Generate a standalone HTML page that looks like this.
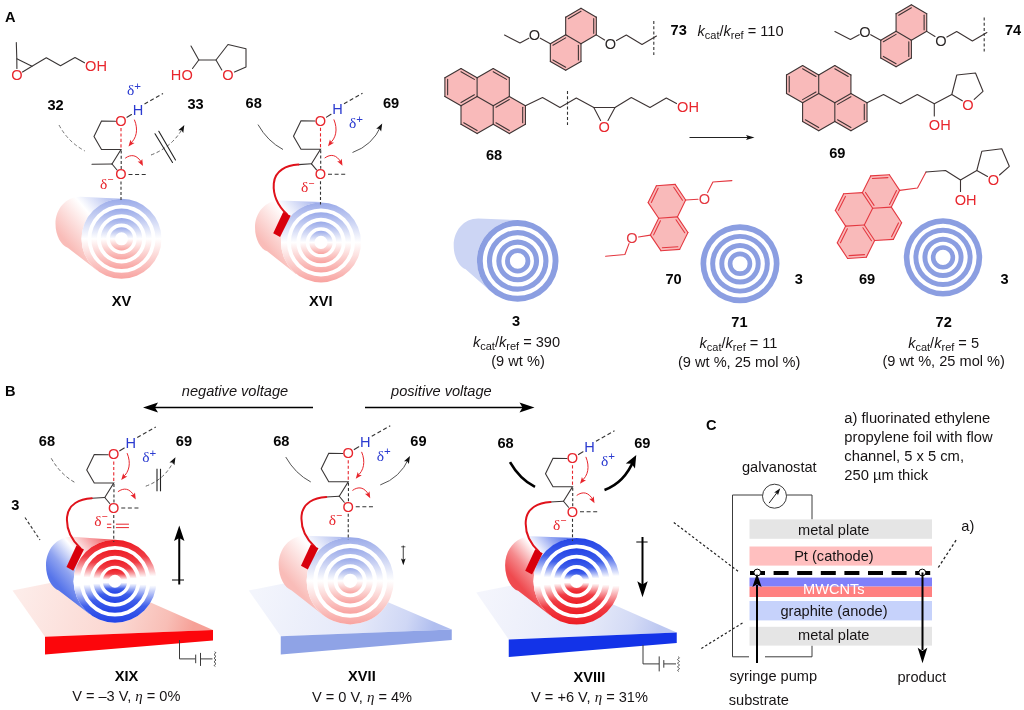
<!DOCTYPE html>
<html><head><meta charset="utf-8"><title>Figure</title>
<style>html,body{margin:0;padding:0;background:#fff;}body{width:1024px;height:710px;overflow:hidden;font-family:"Liberation Sans",sans-serif;}svg{display:block;will-change:transform;}</style></head>
<body>
<svg width="1024" height="710" viewBox="0 0 1024 710" font-family="Liberation Sans, sans-serif">
<defs>
<linearGradient id="gLight" gradientUnits="objectBoundingBox" x1="0" y1="0" x2="0" y2="1"><stop offset="0" stop-color="#9aaae9"/><stop offset="0.5" stop-color="#ffffff"/><stop offset="1" stop-color="#f8a3a0"/></linearGradient>
<linearGradient id="gStrongRB" gradientUnits="objectBoundingBox" x1="0" y1="0" x2="0" y2="1"><stop offset="0" stop-color="#ed1c24"/><stop offset="0.2" stop-color="#f03c44"/><stop offset="0.44" stop-color="#ffffff"/><stop offset="0.55" stop-color="#ffffff"/><stop offset="0.8" stop-color="#3f5fea"/><stop offset="1" stop-color="#2343e6"/></linearGradient>
<linearGradient id="gStrongBR" gradientUnits="objectBoundingBox" x1="0" y1="0" x2="0" y2="1"><stop offset="0" stop-color="#2343e6"/><stop offset="0.2" stop-color="#3f5fea"/><stop offset="0.44" stop-color="#ffffff"/><stop offset="0.55" stop-color="#ffffff"/><stop offset="0.8" stop-color="#f03c44"/><stop offset="1" stop-color="#ed1c24"/></linearGradient>
<linearGradient id="gbXV" gradientUnits="userSpaceOnUse" x1="113.5" y1="192.8" x2="61.5" y2="236.8"><stop offset="0" stop-color="#a6b4ed"/><stop offset="0.47" stop-color="#ffffff"/><stop offset="1" stop-color="#f9bcb8"/></linearGradient>
<linearGradient id="gbXVI" gradientUnits="userSpaceOnUse" x1="313" y1="196.4" x2="261" y2="240.4"><stop offset="0" stop-color="#a6b4ed"/><stop offset="0.47" stop-color="#ffffff"/><stop offset="1" stop-color="#f9bcb8"/></linearGradient>
<linearGradient id="gpXIX" gradientUnits="userSpaceOnUse" x1="20" y1="592" x2="190" y2="640"><stop offset="0" stop-color="#fdece9"/><stop offset="0.6" stop-color="#fbd6d0"/><stop offset="0.85" stop-color="#f8beb6"/><stop offset="1" stop-color="#f6a097"/></linearGradient>
<linearGradient id="gbXIX" gradientUnits="userSpaceOnUse" x1="107" y1="533.25" x2="53" y2="579.25"><stop offset="0" stop-color="#f0555a"/><stop offset="0.25" stop-color="#f7a5a8"/><stop offset="0.5" stop-color="#ffffff"/><stop offset="0.78" stop-color="#8fa3f0"/><stop offset="1" stop-color="#5674ea"/></linearGradient>
<linearGradient id="gpXVII" gradientUnits="userSpaceOnUse" x1="256" y1="592" x2="430" y2="640"><stop offset="0" stop-color="#f3f5fc"/><stop offset="0.6" stop-color="#e4e8f9"/><stop offset="0.85" stop-color="#cfd7f5"/><stop offset="1" stop-color="#b0beef"/></linearGradient>
<linearGradient id="gbXVII" gradientUnits="userSpaceOnUse" x1="342.2" y1="532.8" x2="288.2" y2="578.8"><stop offset="0" stop-color="#a6b4ed"/><stop offset="0.47" stop-color="#ffffff"/><stop offset="1" stop-color="#f9bcb8"/></linearGradient>
<linearGradient id="gpXVIII" gradientUnits="userSpaceOnUse" x1="484" y1="594" x2="655" y2="642"><stop offset="0" stop-color="#f4f5fc"/><stop offset="0.6" stop-color="#e6eaf9"/><stop offset="0.85" stop-color="#d3daf5"/><stop offset="1" stop-color="#bdc8f1"/></linearGradient>
<linearGradient id="gbXVIII" gradientUnits="userSpaceOnUse" x1="568.6" y1="533.25" x2="514.6" y2="579.25"><stop offset="0" stop-color="#4a68ea"/><stop offset="0.25" stop-color="#9aabf2"/><stop offset="0.5" stop-color="#ffffff"/><stop offset="0.78" stop-color="#f58a8d"/><stop offset="1" stop-color="#ef4a4f"/></linearGradient>
</defs>
<rect width="1024" height="710" fill="#fff"/>
<g>
<text x="5" y="22" font-family="Liberation Sans" font-size="14.6" fill="#050505" font-weight="bold" text-anchor="start" font-style="normal" >A</text>
<path d="M16.3,42.5 L16.8,58.8 L32,66.3 L46.3,57.7 L60.5,65.8 L75,57.5 L84.5,62.8" fill="none" stroke="#3a3636" stroke-width="1.1" stroke-linejoin="round" stroke-linecap="round"/>
<line x1="16.8" y1="58.8" x2="16.9" y2="68.5" stroke="#3a3636" stroke-width="1.1" stroke-linecap="round" />
<line x1="32" y1="66.3" x2="22.5" y2="72" stroke="#3a3636" stroke-width="1.1" stroke-linecap="round" />
<text x="17" y="80.23" font-family="Liberation Sans" font-size="14.6" fill="#e8262d" font-weight="normal" text-anchor="middle" font-style="normal" >O</text>
<text x="96" y="71.23" font-family="Liberation Sans" font-size="14.6" fill="#e8262d" font-weight="normal" text-anchor="middle" font-style="normal" >OH</text>
<text x="55.6" y="109.8" font-family="Liberation Sans" font-size="14.6" fill="#050505" font-weight="bold" text-anchor="middle" font-style="normal" >32</text>
<path d="M191,46 L198.8,60 L216,60" fill="none" stroke="#3a3636" stroke-width="1.1" stroke-linejoin="round" stroke-linecap="round"/>
<line x1="198.8" y1="60" x2="192.5" y2="68.5" stroke="#3a3636" stroke-width="1.1" stroke-linecap="round" />
<path d="M221.8,70 L216,60 L228,44.5 L246,48.8 L246,67 L234.5,72" fill="none" stroke="#3a3636" stroke-width="1.1" stroke-linejoin="round" stroke-linecap="round"/>
<text x="181.8" y="80.23" font-family="Liberation Sans" font-size="14.6" fill="#e8262d" font-weight="normal" text-anchor="middle" font-style="normal" >HO</text>
<text x="228" y="79.73" font-family="Liberation Sans" font-size="14.6" fill="#e8262d" font-weight="normal" text-anchor="middle" font-style="normal" >O</text>
<text x="195.5" y="108.9" font-family="Liberation Sans" font-size="14.6" fill="#050505" font-weight="bold" text-anchor="middle" font-style="normal" >33</text>
<path d="M121.5,198.8 L80.5,196.8 C65.8,196.8 55.5,208.89 55.5,223.8 C55.5,235.95 61.25,245.4 67.7,247.64 L96.87,270.32 L121.5,238.8 Z" fill="url(#gbXV)"/>
<circle cx="121.5" cy="238.8" r="40" fill="#fff"/>
<path d="M81.5,238.8 A40,40 0 1 0 161.5,238.8 A40,40 0 1 0 81.5,238.8 Z M87.5,238.8 A34,34 0 1 1 155.5,238.8 A34,34 0 1 1 87.5,238.8 Z" fill="url(#gLight)" fill-rule="evenodd"/>
<path d="M91.3,238.8 A30.2,30.2 0 1 0 151.7,238.8 A30.2,30.2 0 1 0 91.3,238.8 Z M96.9,238.8 A24.6,24.6 0 1 1 146.1,238.8 A24.6,24.6 0 1 1 96.9,238.8 Z" fill="url(#gLight)" fill-rule="evenodd"/>
<path d="M100.7,238.8 A20.8,20.8 0 1 0 142.3,238.8 A20.8,20.8 0 1 0 100.7,238.8 Z M106.3,238.8 A15.2,15.2 0 1 1 136.7,238.8 A15.2,15.2 0 1 1 106.3,238.8 Z" fill="url(#gLight)" fill-rule="evenodd"/>
<path d="M109.85,238.8 A11.65,11.65 0 1 0 133.15,238.8 A11.65,11.65 0 1 0 109.85,238.8 Z M114.95,238.8 A6.55,6.55 0 1 1 128.05,238.8 A6.55,6.55 0 1 1 114.95,238.8 Z" fill="url(#gLight)" fill-rule="evenodd"/>
<path d="M115.5,121.2 L101.5,121 L94,136.5 L101.5,149.5 L121,149.5 L112,164" fill="none" stroke="#3a3636" stroke-width="1.1" stroke-linejoin="miter" stroke-linecap="round"/>
<line x1="112" y1="164" x2="117" y2="170" stroke="#3a3636" stroke-width="1.1" stroke-linecap="round" />
<line x1="127" y1="117.3" x2="131.5" y2="114.5" stroke="#3a3636" stroke-width="1.1" stroke-linecap="round" />
<line x1="144.5" y1="104" x2="163" y2="93.5" stroke="#333" stroke-width="1.1" stroke-linecap="butt" stroke-dasharray="4 2.6" />
<line x1="121" y1="128" x2="121" y2="149" stroke="#e8262d" stroke-width="1.1" stroke-linecap="butt" stroke-dasharray="3.2 2.2" />
<line x1="121.2" y1="150.5" x2="121.2" y2="169" stroke="#333" stroke-width="1.1" stroke-linecap="butt" stroke-dasharray="3 2.2" />
<line x1="121" y1="181.5" x2="121" y2="200.5" stroke="#333" stroke-width="1.1" stroke-linecap="butt" stroke-dasharray="3 2.2" />
<line x1="128.5" y1="174.5" x2="148" y2="174.5" stroke="#333" stroke-width="1.1" stroke-linecap="butt" stroke-dasharray="4 2.6" />
<line x1="112" y1="164" x2="92" y2="164.3" stroke="#3a3636" stroke-width="1.1" stroke-linecap="round" />
<text x="121" y="125.93" font-family="Liberation Sans" font-size="14.6" fill="#e8262d" font-weight="normal" text-anchor="middle" font-style="normal" >O</text>
<text x="138" y="114.63" font-family="Liberation Sans" font-size="14.6" fill="#2b3bd0" font-weight="normal" text-anchor="middle" font-style="normal" >H</text>
<text x="121" y="179.43" font-family="Liberation Sans" font-size="14.6" fill="#e8262d" font-weight="normal" text-anchor="middle" font-style="normal" >O</text>
<text x="127" y="95" font-family="Liberation Serif" font-size="15.5" fill="#2b3bd0" font-weight="normal" text-anchor="start" font-style="normal" >&#948;</text>
<text x="134.3" y="89.5" font-family="Liberation Sans" font-size="11.5" fill="#2b3bd0" font-weight="normal" text-anchor="start" font-style="normal" >+</text>
<text x="100" y="188.8" font-family="Liberation Serif" font-size="15.5" fill="#e8262d" font-weight="normal" text-anchor="start" font-style="normal" >&#948;</text>
<text x="107.3" y="183.3" font-family="Liberation Sans" font-size="10.5" fill="#e8262d" font-weight="normal" text-anchor="start" font-style="normal" >&#8722;</text>
<path d="M134.5,120 C138.5,129.5 136.5,138.5 130.5,143.5" fill="none" stroke="#e8262d" stroke-width="1" stroke-linecap="round" stroke-linejoin="round" />
<path d="M128.5,146.5 L130.45,139.78 L131.7,142.4 L134.55,142.98 Z" fill="#e8262d"/>
<path d="M125.5,158 C131,154 137,154.5 141.5,162.5" fill="none" stroke="#e8262d" stroke-width="1" stroke-linecap="round" stroke-linejoin="round" />
<path d="M143,166 L137.65,161.48 L140.56,161.41 L142.24,159.04 Z" fill="#e8262d"/>
<path d="M59,125 Q68,142 85,151" fill="none" stroke="#777" stroke-width="1" stroke-linecap="butt" stroke-linejoin="round" stroke-dasharray="3.6 2.4" />
<path d="M151,155 Q172,147 182.5,128.5" fill="none" stroke="#666" stroke-width="1" stroke-linecap="butt" stroke-linejoin="round" stroke-dasharray="3.6 2.4" />
<path d="M184.3,125 L183.25,132.94 L181.48,130.3 L178.31,130.31 Z" fill="#111"/>
<line x1="155" y1="133.8" x2="172.5" y2="162.5" stroke="#222" stroke-width="1.1" stroke-linecap="round" />
<line x1="158.8" y1="131.3" x2="175.5" y2="160" stroke="#222" stroke-width="1.1" stroke-linecap="round" />
<text x="121.5" y="306" font-family="Liberation Sans" font-size="14.6" fill="#050505" font-weight="bold" text-anchor="middle" font-style="normal" >XV</text>
<text x="253.7" y="108" font-family="Liberation Sans" font-size="14.6" fill="#050505" font-weight="bold" text-anchor="middle" font-style="normal" >68</text>
<text x="391" y="108" font-family="Liberation Sans" font-size="14.6" fill="#050505" font-weight="bold" text-anchor="middle" font-style="normal" >69</text>
<path d="M321,202.1 L280,200.4 C265.3,200.4 255,212.49 255,227.4 C255,239.55 260.75,249 267.2,251.24 L296.19,274.16 L321,242.4 Z" fill="url(#gbXVI)"/>
<circle cx="321" cy="242.4" r="40" fill="#fff"/>
<path d="M281,242.4 A40,40 0 1 0 361,242.4 A40,40 0 1 0 281,242.4 Z M287,242.4 A34,34 0 1 1 355,242.4 A34,34 0 1 1 287,242.4 Z" fill="url(#gLight)" fill-rule="evenodd"/>
<path d="M290.8,242.4 A30.2,30.2 0 1 0 351.2,242.4 A30.2,30.2 0 1 0 290.8,242.4 Z M296.4,242.4 A24.6,24.6 0 1 1 345.6,242.4 A24.6,24.6 0 1 1 296.4,242.4 Z" fill="url(#gLight)" fill-rule="evenodd"/>
<path d="M300.2,242.4 A20.8,20.8 0 1 0 341.8,242.4 A20.8,20.8 0 1 0 300.2,242.4 Z M305.8,242.4 A15.2,15.2 0 1 1 336.2,242.4 A15.2,15.2 0 1 1 305.8,242.4 Z" fill="url(#gLight)" fill-rule="evenodd"/>
<path d="M309.35,242.4 A11.65,11.65 0 1 0 332.65,242.4 A11.65,11.65 0 1 0 309.35,242.4 Z M314.45,242.4 A6.55,6.55 0 1 1 327.55,242.4 A6.55,6.55 0 1 1 314.45,242.4 Z" fill="url(#gLight)" fill-rule="evenodd"/>
<path d="M315,121 L301,120.8 L293.5,136.3 L301,149.3 L320.5,149.3 L311.5,163.8" fill="none" stroke="#3a3636" stroke-width="1.1" stroke-linejoin="miter" stroke-linecap="round"/>
<line x1="311.5" y1="163.8" x2="316.5" y2="169.8" stroke="#3a3636" stroke-width="1.1" stroke-linecap="round" />
<line x1="326.5" y1="117.1" x2="331" y2="114.3" stroke="#3a3636" stroke-width="1.1" stroke-linecap="round" />
<line x1="344" y1="103.8" x2="362.5" y2="93.3" stroke="#333" stroke-width="1.1" stroke-linecap="butt" stroke-dasharray="4 2.6" />
<line x1="320.5" y1="127.8" x2="320.5" y2="148.8" stroke="#e8262d" stroke-width="1.1" stroke-linecap="butt" stroke-dasharray="3.2 2.2" />
<line x1="320.7" y1="150.3" x2="320.7" y2="168.8" stroke="#333" stroke-width="1.1" stroke-linecap="butt" stroke-dasharray="3 2.2" />
<line x1="320.5" y1="181.3" x2="320.5" y2="204.5" stroke="#333" stroke-width="1.1" stroke-linecap="butt" stroke-dasharray="3 2.2" />
<line x1="328" y1="174.3" x2="347.5" y2="174.3" stroke="#333" stroke-width="1.1" stroke-linecap="butt" stroke-dasharray="4 2.6" />
<line x1="311.5" y1="163.8" x2="298.5" y2="164.6" stroke="#3a3636" stroke-width="1.1" stroke-linecap="round" />
<path d="M298.5,164.6 C286.5,165.3 275,170.3 273.8,183.3 C272.7,197.3 278.5,206.3 287,214.3" fill="none" stroke="#e0121b" stroke-width="2" stroke-linecap="round" stroke-linejoin="round" />
<path d="M283.2,211.9 L290.7,215.7 L280.1,237 L273.2,233.2 Z" fill="#d8000c" stroke="none" stroke-width="0" stroke-linejoin="round" stroke-linecap="round"/>
<text x="320.5" y="125.73" font-family="Liberation Sans" font-size="14.6" fill="#e8262d" font-weight="normal" text-anchor="middle" font-style="normal" >O</text>
<text x="337.5" y="114.43" font-family="Liberation Sans" font-size="14.6" fill="#2b3bd0" font-weight="normal" text-anchor="middle" font-style="normal" >H</text>
<text x="320.5" y="179.23" font-family="Liberation Sans" font-size="14.6" fill="#e8262d" font-weight="normal" text-anchor="middle" font-style="normal" >O</text>
<text x="349" y="128.3" font-family="Liberation Serif" font-size="15.5" fill="#2b3bd0" font-weight="normal" text-anchor="start" font-style="normal" >&#948;</text>
<text x="356.3" y="122.8" font-family="Liberation Sans" font-size="11.5" fill="#2b3bd0" font-weight="normal" text-anchor="start" font-style="normal" >+</text>
<text x="301" y="192.1" font-family="Liberation Serif" font-size="15.5" fill="#e8262d" font-weight="normal" text-anchor="start" font-style="normal" >&#948;</text>
<text x="308.3" y="186.6" font-family="Liberation Sans" font-size="10.5" fill="#e8262d" font-weight="normal" text-anchor="start" font-style="normal" >&#8722;</text>
<path d="M334,119.8 C338,129.3 336,138.3 330,143.3" fill="none" stroke="#e8262d" stroke-width="1" stroke-linecap="round" stroke-linejoin="round" />
<path d="M328,146.3 L329.95,139.58 L331.2,142.2 L334.05,142.78 Z" fill="#e8262d"/>
<path d="M325,157.8 C330.5,153.8 336.5,154.3 341,162.3" fill="none" stroke="#e8262d" stroke-width="1" stroke-linecap="round" stroke-linejoin="round" />
<path d="M342.5,165.8 L337.15,161.28 L340.06,161.21 L341.74,158.84 Z" fill="#e8262d"/>
<path d="M258,124.6 Q267.5,141.3 283,149.5" fill="none" stroke="#555" stroke-width="1" stroke-linecap="butt" stroke-linejoin="round" />
<path d="M352.5,152.5 Q372.5,145.3 381,126" fill="none" stroke="#555" stroke-width="1" stroke-linecap="butt" stroke-linejoin="round" />
<path d="M382.2,123.5 L381.15,131.44 L379.38,128.8 L376.21,128.81 Z" fill="#111"/>
<text x="320.7" y="306" font-family="Liberation Sans" font-size="14.6" fill="#050505" font-weight="bold" text-anchor="middle" font-style="normal" >XVI</text>
<path d="M581,8.3 L596.33,17.15 L596.33,34.85 L581,43.7 L565.67,34.85 L565.67,17.15 Z" fill="#f9baba" stroke="none" stroke-width="0" stroke-linejoin="round" stroke-linecap="round"/>
<path d="M565.67,34.85 L581,43.7 L581,61.4 L565.67,70.25 L550.34,61.4 L550.34,43.7 Z" fill="#f9baba" stroke="none" stroke-width="0" stroke-linejoin="round" stroke-linecap="round"/>
<line x1="581" y1="8.3" x2="596.33" y2="17.15" stroke="#3d3434" stroke-width="1.1" stroke-linecap="round" />
<line x1="596.33" y1="17.15" x2="596.33" y2="34.85" stroke="#3d3434" stroke-width="1.1" stroke-linecap="round" />
<line x1="596.33" y1="34.85" x2="581" y2="43.7" stroke="#3d3434" stroke-width="1.1" stroke-linecap="round" />
<line x1="581" y1="43.7" x2="565.67" y2="34.85" stroke="#3d3434" stroke-width="1.1" stroke-linecap="round" />
<line x1="565.67" y1="34.85" x2="565.67" y2="17.15" stroke="#3d3434" stroke-width="1.1" stroke-linecap="round" />
<line x1="565.67" y1="17.15" x2="581" y2="8.3" stroke="#3d3434" stroke-width="1.1" stroke-linecap="round" />
<line x1="581" y1="43.7" x2="581" y2="61.4" stroke="#3d3434" stroke-width="1.1" stroke-linecap="round" />
<line x1="581" y1="61.4" x2="565.67" y2="70.25" stroke="#3d3434" stroke-width="1.1" stroke-linecap="round" />
<line x1="565.67" y1="70.25" x2="550.34" y2="61.4" stroke="#3d3434" stroke-width="1.1" stroke-linecap="round" />
<line x1="550.34" y1="61.4" x2="550.34" y2="43.7" stroke="#3d3434" stroke-width="1.1" stroke-linecap="round" />
<line x1="550.34" y1="43.7" x2="565.67" y2="34.85" stroke="#3d3434" stroke-width="1.1" stroke-linecap="round" />
<line x1="568.28" y1="18.65" x2="581" y2="11.31" stroke="#3d3434" stroke-width="1.1" stroke-linecap="round" />
<line x1="593.72" y1="18.65" x2="593.72" y2="33.35" stroke="#3d3434" stroke-width="1.1" stroke-linecap="round" />
<line x1="552.95" y1="45.2" x2="565.67" y2="37.86" stroke="#3d3434" stroke-width="1.1" stroke-linecap="round" />
<line x1="578.39" y1="45.2" x2="578.39" y2="59.9" stroke="#3d3434" stroke-width="1.1" stroke-linecap="round" />
<line x1="565.67" y1="67.24" x2="552.95" y2="59.9" stroke="#3d3434" stroke-width="1.1" stroke-linecap="round" />
<line x1="550.34" y1="43.7" x2="540.3" y2="38.2" stroke="#3d3434" stroke-width="1.1" stroke-linecap="round" />
<path d="M528.8,38.2 L520,43 L504.5,35" fill="none" stroke="#3d3434" stroke-width="1.1" stroke-linejoin="round" stroke-linecap="round"/>
<text x="534.5" y="40.23" font-family="Liberation Sans" font-size="14.6" fill="#2b2727" font-weight="normal" text-anchor="middle" font-style="normal" >O</text>
<line x1="596.33" y1="34.85" x2="604.6" y2="40" stroke="#3d3434" stroke-width="1.1" stroke-linecap="round" />
<path d="M616.5,40.6 L626.3,35 L642,44.5 L656.5,36" fill="none" stroke="#3d3434" stroke-width="1.1" stroke-linejoin="round" stroke-linecap="round"/>
<text x="610.5" y="49.03" font-family="Liberation Sans" font-size="14.6" fill="#2b2727" font-weight="normal" text-anchor="middle" font-style="normal" >O</text>
<line x1="653.8" y1="21" x2="653.8" y2="55" stroke="#333" stroke-width="1.1" stroke-linecap="butt" stroke-dasharray="3 2.2" />
<text x="678.7" y="34.5" font-family="Liberation Sans" font-size="14.6" fill="#050505" font-weight="bold" text-anchor="middle" font-style="normal" >73</text>
<text x="697.5" y="35.6" font-family="Liberation Sans" font-size="14.6" fill="#171415" font-weight="normal" text-anchor="start" font-style="normal" ><tspan font-style="italic">k</tspan><tspan dy="3.2" font-size="11">cat</tspan><tspan dy="-3.2">/</tspan><tspan font-style="italic">k</tspan><tspan dy="3.2" font-size="11">ref</tspan><tspan dy="-3.2"> = 110</tspan></text>
<path d="M911.4,4.8 L926.73,13.65 L926.73,31.35 L911.4,40.2 L896.07,31.35 L896.07,13.65 Z" fill="#f9baba" stroke="none" stroke-width="0" stroke-linejoin="round" stroke-linecap="round"/>
<path d="M896.07,31.35 L911.4,40.2 L911.4,57.9 L896.07,66.75 L880.74,57.9 L880.74,40.2 Z" fill="#f9baba" stroke="none" stroke-width="0" stroke-linejoin="round" stroke-linecap="round"/>
<line x1="911.4" y1="4.8" x2="926.73" y2="13.65" stroke="#3d3434" stroke-width="1.1" stroke-linecap="round" />
<line x1="926.73" y1="13.65" x2="926.73" y2="31.35" stroke="#3d3434" stroke-width="1.1" stroke-linecap="round" />
<line x1="926.73" y1="31.35" x2="911.4" y2="40.2" stroke="#3d3434" stroke-width="1.1" stroke-linecap="round" />
<line x1="911.4" y1="40.2" x2="896.07" y2="31.35" stroke="#3d3434" stroke-width="1.1" stroke-linecap="round" />
<line x1="896.07" y1="31.35" x2="896.07" y2="13.65" stroke="#3d3434" stroke-width="1.1" stroke-linecap="round" />
<line x1="896.07" y1="13.65" x2="911.4" y2="4.8" stroke="#3d3434" stroke-width="1.1" stroke-linecap="round" />
<line x1="911.4" y1="40.2" x2="911.4" y2="57.9" stroke="#3d3434" stroke-width="1.1" stroke-linecap="round" />
<line x1="911.4" y1="57.9" x2="896.07" y2="66.75" stroke="#3d3434" stroke-width="1.1" stroke-linecap="round" />
<line x1="896.07" y1="66.75" x2="880.74" y2="57.9" stroke="#3d3434" stroke-width="1.1" stroke-linecap="round" />
<line x1="880.74" y1="57.9" x2="880.74" y2="40.2" stroke="#3d3434" stroke-width="1.1" stroke-linecap="round" />
<line x1="880.74" y1="40.2" x2="896.07" y2="31.35" stroke="#3d3434" stroke-width="1.1" stroke-linecap="round" />
<line x1="898.68" y1="15.15" x2="911.4" y2="7.81" stroke="#3d3434" stroke-width="1.1" stroke-linecap="round" />
<line x1="924.12" y1="15.15" x2="924.12" y2="29.85" stroke="#3d3434" stroke-width="1.1" stroke-linecap="round" />
<line x1="883.35" y1="41.7" x2="896.07" y2="34.36" stroke="#3d3434" stroke-width="1.1" stroke-linecap="round" />
<line x1="908.79" y1="41.7" x2="908.79" y2="56.4" stroke="#3d3434" stroke-width="1.1" stroke-linecap="round" />
<line x1="896.07" y1="63.74" x2="883.35" y2="56.4" stroke="#3d3434" stroke-width="1.1" stroke-linecap="round" />
<line x1="880.74" y1="40.2" x2="870.7" y2="34.7" stroke="#3d3434" stroke-width="1.1" stroke-linecap="round" />
<path d="M859.2,34.7 L850.4,39.5 L834.9,31.5" fill="none" stroke="#3d3434" stroke-width="1.1" stroke-linejoin="round" stroke-linecap="round"/>
<text x="864.9" y="36.73" font-family="Liberation Sans" font-size="14.6" fill="#2b2727" font-weight="normal" text-anchor="middle" font-style="normal" >O</text>
<line x1="926.73" y1="31.35" x2="935" y2="36.5" stroke="#3d3434" stroke-width="1.1" stroke-linecap="round" />
<path d="M946.9,37.1 L956.7,31.5 L972.4,41 L986.9,32.5" fill="none" stroke="#3d3434" stroke-width="1.1" stroke-linejoin="round" stroke-linecap="round"/>
<text x="940.9" y="45.53" font-family="Liberation Sans" font-size="14.6" fill="#2b2727" font-weight="normal" text-anchor="middle" font-style="normal" >O</text>
<line x1="984.2" y1="17.5" x2="984.2" y2="51.5" stroke="#333" stroke-width="1.1" stroke-linecap="butt" stroke-dasharray="3 2.2" />
<text x="1013" y="34.5" font-family="Liberation Sans" font-size="14.6" fill="#050505" font-weight="bold" text-anchor="middle" font-style="normal" >74</text>
<path d="M461,68.5 L477.11,77.8 L477.11,96.4 L461,105.7 L444.89,96.4 L444.89,77.8 Z" fill="#f9baba" stroke="none" stroke-width="0" stroke-linejoin="round" stroke-linecap="round"/>
<path d="M493.22,68.5 L509.32,77.8 L509.32,96.4 L493.22,105.7 L477.11,96.4 L477.11,77.8 Z" fill="#f9baba" stroke="none" stroke-width="0" stroke-linejoin="round" stroke-linecap="round"/>
<path d="M477.11,96.4 L493.22,105.7 L493.22,124.3 L477.11,133.6 L461,124.3 L461,105.7 Z" fill="#f9baba" stroke="none" stroke-width="0" stroke-linejoin="round" stroke-linecap="round"/>
<path d="M509.32,96.4 L525.43,105.7 L525.43,124.3 L509.32,133.6 L493.22,124.3 L493.22,105.7 Z" fill="#f9baba" stroke="none" stroke-width="0" stroke-linejoin="round" stroke-linecap="round"/>
<line x1="461" y1="68.5" x2="477.11" y2="77.8" stroke="#3d3434" stroke-width="1.1" stroke-linecap="round" />
<line x1="477.11" y1="77.8" x2="477.11" y2="96.4" stroke="#3d3434" stroke-width="1.1" stroke-linecap="round" />
<line x1="477.11" y1="96.4" x2="461" y2="105.7" stroke="#3d3434" stroke-width="1.1" stroke-linecap="round" />
<line x1="461" y1="105.7" x2="444.89" y2="96.4" stroke="#3d3434" stroke-width="1.1" stroke-linecap="round" />
<line x1="444.89" y1="96.4" x2="444.89" y2="77.8" stroke="#3d3434" stroke-width="1.1" stroke-linecap="round" />
<line x1="444.89" y1="77.8" x2="461" y2="68.5" stroke="#3d3434" stroke-width="1.1" stroke-linecap="round" />
<line x1="493.22" y1="68.5" x2="509.32" y2="77.8" stroke="#3d3434" stroke-width="1.1" stroke-linecap="round" />
<line x1="509.32" y1="77.8" x2="509.32" y2="96.4" stroke="#3d3434" stroke-width="1.1" stroke-linecap="round" />
<line x1="509.32" y1="96.4" x2="493.22" y2="105.7" stroke="#3d3434" stroke-width="1.1" stroke-linecap="round" />
<line x1="493.22" y1="105.7" x2="477.11" y2="96.4" stroke="#3d3434" stroke-width="1.1" stroke-linecap="round" />
<line x1="477.11" y1="77.8" x2="493.22" y2="68.5" stroke="#3d3434" stroke-width="1.1" stroke-linecap="round" />
<line x1="493.22" y1="105.7" x2="493.22" y2="124.3" stroke="#3d3434" stroke-width="1.1" stroke-linecap="round" />
<line x1="493.22" y1="124.3" x2="477.11" y2="133.6" stroke="#3d3434" stroke-width="1.1" stroke-linecap="round" />
<line x1="477.11" y1="133.6" x2="461" y2="124.3" stroke="#3d3434" stroke-width="1.1" stroke-linecap="round" />
<line x1="461" y1="124.3" x2="461" y2="105.7" stroke="#3d3434" stroke-width="1.1" stroke-linecap="round" />
<line x1="509.32" y1="96.4" x2="525.43" y2="105.7" stroke="#3d3434" stroke-width="1.1" stroke-linecap="round" />
<line x1="525.43" y1="105.7" x2="525.43" y2="124.3" stroke="#3d3434" stroke-width="1.1" stroke-linecap="round" />
<line x1="525.43" y1="124.3" x2="509.32" y2="133.6" stroke="#3d3434" stroke-width="1.1" stroke-linecap="round" />
<line x1="509.32" y1="133.6" x2="493.22" y2="124.3" stroke="#3d3434" stroke-width="1.1" stroke-linecap="round" />
<line x1="447.63" y1="94.82" x2="447.63" y2="79.38" stroke="#3d3434" stroke-width="1.1" stroke-linecap="round" />
<line x1="461" y1="71.66" x2="474.37" y2="79.38" stroke="#3d3434" stroke-width="1.1" stroke-linecap="round" />
<line x1="474.37" y1="94.82" x2="461" y2="102.54" stroke="#3d3434" stroke-width="1.1" stroke-linecap="round" />
<line x1="493.22" y1="71.66" x2="506.59" y2="79.38" stroke="#3d3434" stroke-width="1.1" stroke-linecap="round" />
<line x1="477.11" y1="130.44" x2="463.74" y2="122.72" stroke="#3d3434" stroke-width="1.1" stroke-linecap="round" />
<line x1="495.95" y1="107.28" x2="509.32" y2="99.56" stroke="#3d3434" stroke-width="1.1" stroke-linecap="round" />
<line x1="522.69" y1="107.28" x2="522.69" y2="122.72" stroke="#3d3434" stroke-width="1.1" stroke-linecap="round" />
<line x1="509.32" y1="130.44" x2="495.95" y2="122.72" stroke="#3d3434" stroke-width="1.1" stroke-linecap="round" />
<path d="M525.43,105.7 L542.5,97.5 L560,107.5 L576.3,98 L593.8,107.5 L615,107.5 L631.3,97.5 L650,107.5 L666.3,98 L676.5,103.6" fill="none" stroke="#3d3434" stroke-width="1.1" stroke-linejoin="round" stroke-linecap="round"/>
<line x1="593.8" y1="107.5" x2="600.6" y2="120.5" stroke="#3d3434" stroke-width="1.1" stroke-linecap="round" />
<line x1="615" y1="107.5" x2="608" y2="120.5" stroke="#3d3434" stroke-width="1.1" stroke-linecap="round" />
<text x="604.3" y="132.03" font-family="Liberation Sans" font-size="14.6" fill="#e8262d" font-weight="normal" text-anchor="middle" font-style="normal" >O</text>
<text x="688" y="112.23" font-family="Liberation Sans" font-size="14.6" fill="#e8262d" font-weight="normal" text-anchor="middle" font-style="normal" >OH</text>
<line x1="567.5" y1="91" x2="567.5" y2="125" stroke="#333" stroke-width="1.1" stroke-linecap="butt" stroke-dasharray="3 2.2" />
<text x="494" y="160" font-family="Liberation Sans" font-size="14.6" fill="#050505" font-weight="bold" text-anchor="middle" font-style="normal" >68</text>
<line x1="689.5" y1="137.5" x2="748" y2="137.5" stroke="#222" stroke-width="1.2" stroke-linecap="butt" />
<path d="M754.5,137.5 L746,140.1 L747.7,137.5 L746,134.9 Z" fill="#111"/>
<path d="M802.6,65.6 L818.71,74.9 L818.71,93.5 L802.6,102.8 L786.49,93.5 L786.49,74.9 Z" fill="#f9baba" stroke="none" stroke-width="0" stroke-linejoin="round" stroke-linecap="round"/>
<path d="M834.82,65.6 L850.92,74.9 L850.92,93.5 L834.82,102.8 L818.71,93.5 L818.71,74.9 Z" fill="#f9baba" stroke="none" stroke-width="0" stroke-linejoin="round" stroke-linecap="round"/>
<path d="M818.71,93.5 L834.82,102.8 L834.82,121.4 L818.71,130.7 L802.6,121.4 L802.6,102.8 Z" fill="#f9baba" stroke="none" stroke-width="0" stroke-linejoin="round" stroke-linecap="round"/>
<path d="M850.92,93.5 L867.03,102.8 L867.03,121.4 L850.92,130.7 L834.82,121.4 L834.82,102.8 Z" fill="#f9baba" stroke="none" stroke-width="0" stroke-linejoin="round" stroke-linecap="round"/>
<line x1="802.6" y1="65.6" x2="818.71" y2="74.9" stroke="#3d3434" stroke-width="1.1" stroke-linecap="round" />
<line x1="818.71" y1="74.9" x2="818.71" y2="93.5" stroke="#3d3434" stroke-width="1.1" stroke-linecap="round" />
<line x1="818.71" y1="93.5" x2="802.6" y2="102.8" stroke="#3d3434" stroke-width="1.1" stroke-linecap="round" />
<line x1="802.6" y1="102.8" x2="786.49" y2="93.5" stroke="#3d3434" stroke-width="1.1" stroke-linecap="round" />
<line x1="786.49" y1="93.5" x2="786.49" y2="74.9" stroke="#3d3434" stroke-width="1.1" stroke-linecap="round" />
<line x1="786.49" y1="74.9" x2="802.6" y2="65.6" stroke="#3d3434" stroke-width="1.1" stroke-linecap="round" />
<line x1="834.82" y1="65.6" x2="850.92" y2="74.9" stroke="#3d3434" stroke-width="1.1" stroke-linecap="round" />
<line x1="850.92" y1="74.9" x2="850.92" y2="93.5" stroke="#3d3434" stroke-width="1.1" stroke-linecap="round" />
<line x1="850.92" y1="93.5" x2="834.82" y2="102.8" stroke="#3d3434" stroke-width="1.1" stroke-linecap="round" />
<line x1="834.82" y1="102.8" x2="818.71" y2="93.5" stroke="#3d3434" stroke-width="1.1" stroke-linecap="round" />
<line x1="818.71" y1="74.9" x2="834.82" y2="65.6" stroke="#3d3434" stroke-width="1.1" stroke-linecap="round" />
<line x1="834.82" y1="102.8" x2="834.82" y2="121.4" stroke="#3d3434" stroke-width="1.1" stroke-linecap="round" />
<line x1="834.82" y1="121.4" x2="818.71" y2="130.7" stroke="#3d3434" stroke-width="1.1" stroke-linecap="round" />
<line x1="818.71" y1="130.7" x2="802.6" y2="121.4" stroke="#3d3434" stroke-width="1.1" stroke-linecap="round" />
<line x1="802.6" y1="121.4" x2="802.6" y2="102.8" stroke="#3d3434" stroke-width="1.1" stroke-linecap="round" />
<line x1="850.92" y1="93.5" x2="867.03" y2="102.8" stroke="#3d3434" stroke-width="1.1" stroke-linecap="round" />
<line x1="867.03" y1="102.8" x2="867.03" y2="121.4" stroke="#3d3434" stroke-width="1.1" stroke-linecap="round" />
<line x1="867.03" y1="121.4" x2="850.92" y2="130.7" stroke="#3d3434" stroke-width="1.1" stroke-linecap="round" />
<line x1="850.92" y1="130.7" x2="834.82" y2="121.4" stroke="#3d3434" stroke-width="1.1" stroke-linecap="round" />
<line x1="789.23" y1="91.92" x2="789.23" y2="76.48" stroke="#3d3434" stroke-width="1.1" stroke-linecap="round" />
<line x1="802.6" y1="68.76" x2="815.97" y2="76.48" stroke="#3d3434" stroke-width="1.1" stroke-linecap="round" />
<line x1="815.97" y1="91.92" x2="802.6" y2="99.64" stroke="#3d3434" stroke-width="1.1" stroke-linecap="round" />
<line x1="834.82" y1="68.76" x2="848.19" y2="76.48" stroke="#3d3434" stroke-width="1.1" stroke-linecap="round" />
<line x1="818.71" y1="127.54" x2="805.34" y2="119.82" stroke="#3d3434" stroke-width="1.1" stroke-linecap="round" />
<line x1="837.55" y1="104.38" x2="850.92" y2="96.66" stroke="#3d3434" stroke-width="1.1" stroke-linecap="round" />
<line x1="864.29" y1="104.38" x2="864.29" y2="119.82" stroke="#3d3434" stroke-width="1.1" stroke-linecap="round" />
<line x1="850.92" y1="127.54" x2="837.55" y2="119.82" stroke="#3d3434" stroke-width="1.1" stroke-linecap="round" />
<path d="M867.03,102.8 L883.5,94.5 L900.5,103.8 L917.3,94.5 L934.3,103.8 L951.8,94.5" fill="none" stroke="#3d3434" stroke-width="1.1" stroke-linejoin="round" stroke-linecap="round"/>
<line x1="934.3" y1="103.8" x2="934.3" y2="116" stroke="#3d3434" stroke-width="1.1" stroke-linecap="round" />
<path d="M962.3,100.8 L951.8,94.5 L956.8,75 L975.5,73 L983,91.3 L974.2,99.3" fill="none" stroke="#3d3434" stroke-width="1.1" stroke-linejoin="round" stroke-linecap="round"/>
<text x="968" y="109.73" font-family="Liberation Sans" font-size="14.6" fill="#e8262d" font-weight="normal" text-anchor="middle" font-style="normal" >O</text>
<text x="939.8" y="129.53" font-family="Liberation Sans" font-size="14.6" fill="#e8262d" font-weight="normal" text-anchor="middle" font-style="normal" >OH</text>
<text x="837.3" y="158.4" font-family="Liberation Sans" font-size="14.6" fill="#050505" font-weight="bold" text-anchor="middle" font-style="normal" >69</text>
<path d="M517.7,220.1 L478.2,218.4 C463.77,218.4 453.7,230.49 453.7,245.4 C453.7,257.55 459.33,267 465.64,269.24 L492.58,293.05 L517.7,260.9 Z" fill="#ccd5f4"/>
<circle cx="517.7" cy="260.9" r="40.8" fill="#fff"/>
<path d="M476.9,260.9 A40.8,40.8 0 1 0 558.5,260.9 A40.8,40.8 0 1 0 476.9,260.9 Z M482.76,260.9 A34.94,34.94 0 1 1 552.64,260.9 A34.94,34.94 0 1 1 482.76,260.9 Z" fill="#8b9ee1" fill-rule="evenodd"/>
<path d="M486.89,260.9 A30.81,30.81 0 1 0 548.51,260.9 A30.81,30.81 0 1 0 486.89,260.9 Z M492.02,260.9 A25.68,25.68 0 1 1 543.38,260.9 A25.68,25.68 0 1 1 492.02,260.9 Z" fill="#8b9ee1" fill-rule="evenodd"/>
<path d="M496.31,260.9 A21.39,21.39 0 1 0 539.09,260.9 A21.39,21.39 0 1 0 496.31,260.9 Z M501.43,260.9 A16.27,16.27 0 1 1 533.97,260.9 A16.27,16.27 0 1 1 501.43,260.9 Z" fill="#8b9ee1" fill-rule="evenodd"/>
<path d="M505.04,260.9 A12.66,12.66 0 1 0 530.36,260.9 A12.66,12.66 0 1 0 505.04,260.9 Z M509.85,260.9 A7.85,7.85 0 1 1 525.55,260.9 A7.85,7.85 0 1 1 509.85,260.9 Z" fill="#8b9ee1" fill-rule="evenodd"/>
<text x="516" y="325.5" font-family="Liberation Sans" font-size="14.6" fill="#050505" font-weight="bold" text-anchor="middle" font-style="normal" >3</text>
<text x="516.5" y="346.5" font-family="Liberation Sans" font-size="14.6" fill="#171415" font-weight="normal" text-anchor="middle" font-style="normal" ><tspan font-style="italic">k</tspan><tspan dy="3.2" font-size="11">cat</tspan><tspan dy="-3.2">/</tspan><tspan font-style="italic">k</tspan><tspan dy="3.2" font-size="11">ref</tspan><tspan dy="-3.2"> = 390</tspan></text>
<text x="518" y="366.2" font-family="Liberation Sans" font-size="14.6" fill="#171415" font-weight="normal" text-anchor="middle" font-style="normal" >(9 wt %)</text>
<path d="M675.14,184.4 L685.65,199.99 L677.41,216.89 L658.66,218.2 L648.15,202.61 L656.39,185.71 Z" fill="#f9baba" stroke="none" stroke-width="0" stroke-linejoin="round" stroke-linecap="round"/>
<path d="M677.41,216.89 L687.93,232.47 L679.68,249.37 L660.93,250.68 L650.42,235.09 L658.66,218.2 Z" fill="#f9baba" stroke="none" stroke-width="0" stroke-linejoin="round" stroke-linecap="round"/>
<line x1="675.14" y1="184.4" x2="685.65" y2="199.99" stroke="#e43840" stroke-width="1.1" stroke-linecap="round" />
<line x1="685.65" y1="199.99" x2="677.41" y2="216.89" stroke="#e43840" stroke-width="1.1" stroke-linecap="round" />
<line x1="677.41" y1="216.89" x2="658.66" y2="218.2" stroke="#e43840" stroke-width="1.1" stroke-linecap="round" />
<line x1="658.66" y1="218.2" x2="648.15" y2="202.61" stroke="#e43840" stroke-width="1.1" stroke-linecap="round" />
<line x1="648.15" y1="202.61" x2="656.39" y2="185.71" stroke="#e43840" stroke-width="1.1" stroke-linecap="round" />
<line x1="656.39" y1="185.71" x2="675.14" y2="184.4" stroke="#e43840" stroke-width="1.1" stroke-linecap="round" />
<line x1="677.41" y1="216.89" x2="687.93" y2="232.47" stroke="#e43840" stroke-width="1.1" stroke-linecap="round" />
<line x1="687.93" y1="232.47" x2="679.68" y2="249.37" stroke="#e43840" stroke-width="1.1" stroke-linecap="round" />
<line x1="679.68" y1="249.37" x2="660.93" y2="250.68" stroke="#e43840" stroke-width="1.1" stroke-linecap="round" />
<line x1="660.93" y1="250.68" x2="650.42" y2="235.09" stroke="#e43840" stroke-width="1.1" stroke-linecap="round" />
<line x1="650.42" y1="235.09" x2="658.66" y2="218.2" stroke="#e43840" stroke-width="1.1" stroke-linecap="round" />
<line x1="673.74" y1="187.28" x2="682.47" y2="200.21" stroke="#e43840" stroke-width="1.1" stroke-linecap="round" />
<line x1="651.33" y1="202.39" x2="658.17" y2="188.36" stroke="#e43840" stroke-width="1.1" stroke-linecap="round" />
<line x1="653.61" y1="234.87" x2="660.45" y2="220.85" stroke="#e43840" stroke-width="1.1" stroke-linecap="round" />
<line x1="676.01" y1="219.76" x2="684.74" y2="232.69" stroke="#e43840" stroke-width="1.1" stroke-linecap="round" />
<line x1="677.9" y1="246.72" x2="662.33" y2="247.81" stroke="#e43840" stroke-width="1.1" stroke-linecap="round" />
<line x1="685.65" y1="199.99" x2="698" y2="199.2" stroke="#e43840" stroke-width="1.1" stroke-linecap="round" />
<path d="M707.6,192.6 L712.9,182 L731.9,180.6" fill="none" stroke="#e43840" stroke-width="1.1" stroke-linejoin="round" stroke-linecap="round"/>
<text x="704.5" y="203.83" font-family="Liberation Sans" font-size="14.6" fill="#e43840" font-weight="normal" text-anchor="middle" font-style="normal" >O</text>
<line x1="650.42" y1="235.09" x2="638.5" y2="237" stroke="#e43840" stroke-width="1.1" stroke-linecap="round" />
<path d="M629,243.6 L624.9,254.5 L605.6,256.2" fill="none" stroke="#e43840" stroke-width="1.1" stroke-linejoin="round" stroke-linecap="round"/>
<text x="631.9" y="242.83" font-family="Liberation Sans" font-size="14.6" fill="#e43840" font-weight="normal" text-anchor="middle" font-style="normal" >O</text>
<text x="673.5" y="283.75" font-family="Liberation Sans" font-size="14.6" fill="#050505" font-weight="bold" text-anchor="middle" font-style="normal" >70</text>
<path d="M700.5,263.75 A39.5,39.5 0 1 0 779.5,263.75 A39.5,39.5 0 1 0 700.5,263.75 Z M706.17,263.75 A33.83,33.83 0 1 1 773.83,263.75 A33.83,33.83 0 1 1 706.17,263.75 Z" fill="#8b9ee1" fill-rule="evenodd"/>
<path d="M710.17,263.75 A29.83,29.83 0 1 0 769.83,263.75 A29.83,29.83 0 1 0 710.17,263.75 Z M715.14,263.75 A24.86,24.86 0 1 1 764.86,263.75 A24.86,24.86 0 1 1 715.14,263.75 Z" fill="#8b9ee1" fill-rule="evenodd"/>
<path d="M719.29,263.75 A20.71,20.71 0 1 0 760.71,263.75 A20.71,20.71 0 1 0 719.29,263.75 Z M724.25,263.75 A15.75,15.75 0 1 1 755.75,263.75 A15.75,15.75 0 1 1 724.25,263.75 Z" fill="#8b9ee1" fill-rule="evenodd"/>
<path d="M727.74,263.75 A12.26,12.26 0 1 0 752.26,263.75 A12.26,12.26 0 1 0 727.74,263.75 Z M732.4,263.75 A7.6,7.6 0 1 1 747.6,263.75 A7.6,7.6 0 1 1 732.4,263.75 Z" fill="#8b9ee1" fill-rule="evenodd"/>
<text x="798.8" y="283.75" font-family="Liberation Sans" font-size="14.6" fill="#050505" font-weight="bold" text-anchor="middle" font-style="normal" >3</text>
<text x="739.4" y="327" font-family="Liberation Sans" font-size="14.6" fill="#050505" font-weight="bold" text-anchor="middle" font-style="normal" >71</text>
<text x="738.5" y="347.9" font-family="Liberation Sans" font-size="14.6" fill="#171415" font-weight="normal" text-anchor="middle" font-style="normal" ><tspan font-style="italic">k</tspan><tspan dy="3.2" font-size="11">cat</tspan><tspan dy="-3.2">/</tspan><tspan font-style="italic">k</tspan><tspan dy="3.2" font-size="11">ref</tspan><tspan dy="-3.2"> = 11</tspan></text>
<text x="739.2" y="366.5" font-family="Liberation Sans" font-size="14.6" fill="#171415" font-weight="normal" text-anchor="middle" font-style="normal" >(9 wt %, 25 mol %)</text>
<path d="M889.34,174.76 L899.67,190.36 L891.32,207.09 L872.66,208.24 L862.33,192.64 L870.68,175.91 Z" fill="#f9baba" stroke="none" stroke-width="0" stroke-linejoin="round" stroke-linecap="round"/>
<path d="M862.33,192.64 L872.66,208.24 L864.31,224.97 L845.65,226.11 L835.33,210.52 L843.67,193.78 Z" fill="#f9baba" stroke="none" stroke-width="0" stroke-linejoin="round" stroke-linecap="round"/>
<path d="M891.32,207.09 L901.64,222.69 L893.3,239.42 L874.63,240.56 L864.31,224.97 L872.66,208.24 Z" fill="#f9baba" stroke="none" stroke-width="0" stroke-linejoin="round" stroke-linecap="round"/>
<path d="M864.31,224.97 L874.63,240.56 L866.29,257.3 L847.62,258.44 L837.3,242.85 L845.65,226.11 Z" fill="#f9baba" stroke="none" stroke-width="0" stroke-linejoin="round" stroke-linecap="round"/>
<line x1="889.34" y1="174.76" x2="899.67" y2="190.36" stroke="#e43840" stroke-width="1.1" stroke-linecap="round" />
<line x1="899.67" y1="190.36" x2="891.32" y2="207.09" stroke="#e43840" stroke-width="1.1" stroke-linecap="round" />
<line x1="891.32" y1="207.09" x2="872.66" y2="208.24" stroke="#e43840" stroke-width="1.1" stroke-linecap="round" />
<line x1="872.66" y1="208.24" x2="862.33" y2="192.64" stroke="#e43840" stroke-width="1.1" stroke-linecap="round" />
<line x1="862.33" y1="192.64" x2="870.68" y2="175.91" stroke="#e43840" stroke-width="1.1" stroke-linecap="round" />
<line x1="870.68" y1="175.91" x2="889.34" y2="174.76" stroke="#e43840" stroke-width="1.1" stroke-linecap="round" />
<line x1="872.66" y1="208.24" x2="864.31" y2="224.97" stroke="#e43840" stroke-width="1.1" stroke-linecap="round" />
<line x1="864.31" y1="224.97" x2="845.65" y2="226.11" stroke="#e43840" stroke-width="1.1" stroke-linecap="round" />
<line x1="845.65" y1="226.11" x2="835.33" y2="210.52" stroke="#e43840" stroke-width="1.1" stroke-linecap="round" />
<line x1="835.33" y1="210.52" x2="843.67" y2="193.78" stroke="#e43840" stroke-width="1.1" stroke-linecap="round" />
<line x1="843.67" y1="193.78" x2="862.33" y2="192.64" stroke="#e43840" stroke-width="1.1" stroke-linecap="round" />
<line x1="891.32" y1="207.09" x2="901.64" y2="222.69" stroke="#e43840" stroke-width="1.1" stroke-linecap="round" />
<line x1="901.64" y1="222.69" x2="893.3" y2="239.42" stroke="#e43840" stroke-width="1.1" stroke-linecap="round" />
<line x1="893.3" y1="239.42" x2="874.63" y2="240.56" stroke="#e43840" stroke-width="1.1" stroke-linecap="round" />
<line x1="874.63" y1="240.56" x2="864.31" y2="224.97" stroke="#e43840" stroke-width="1.1" stroke-linecap="round" />
<line x1="874.63" y1="240.56" x2="866.29" y2="257.3" stroke="#e43840" stroke-width="1.1" stroke-linecap="round" />
<line x1="866.29" y1="257.3" x2="847.62" y2="258.44" stroke="#e43840" stroke-width="1.1" stroke-linecap="round" />
<line x1="847.62" y1="258.44" x2="837.3" y2="242.85" stroke="#e43840" stroke-width="1.1" stroke-linecap="round" />
<line x1="837.3" y1="242.85" x2="845.65" y2="226.11" stroke="#e43840" stroke-width="1.1" stroke-linecap="round" />
<line x1="872.43" y1="178.56" x2="887.93" y2="177.61" stroke="#e43840" stroke-width="1.1" stroke-linecap="round" />
<line x1="896.49" y1="190.55" x2="889.57" y2="204.44" stroke="#e43840" stroke-width="1.1" stroke-linecap="round" />
<line x1="874.07" y1="205.39" x2="865.51" y2="192.45" stroke="#e43840" stroke-width="1.1" stroke-linecap="round" />
<line x1="838.5" y1="210.32" x2="845.42" y2="196.43" stroke="#e43840" stroke-width="1.1" stroke-linecap="round" />
<line x1="898.47" y1="222.88" x2="891.54" y2="236.77" stroke="#e43840" stroke-width="1.1" stroke-linecap="round" />
<line x1="840.48" y1="242.65" x2="847.4" y2="228.76" stroke="#e43840" stroke-width="1.1" stroke-linecap="round" />
<line x1="864.53" y1="254.65" x2="849.04" y2="255.6" stroke="#e43840" stroke-width="1.1" stroke-linecap="round" />
<line x1="862.89" y1="227.82" x2="871.46" y2="240.76" stroke="#e43840" stroke-width="1.1" stroke-linecap="round" />
<path d="M899.67,190.36 L917.5,188 L926,172" fill="none" stroke="#e43840" stroke-width="1.1" stroke-linejoin="round" stroke-linecap="round"/>
<path d="M926,172 L945.5,170.5 L960.5,180 L976.8,170.5" fill="none" stroke="#3d3434" stroke-width="1.1" stroke-linejoin="round" stroke-linecap="round"/>
<line x1="960.5" y1="180" x2="960.5" y2="191.5" stroke="#3d3434" stroke-width="1.1" stroke-linecap="round" />
<path d="M987.5,176.5 L976.8,170.5 L981.8,151.3 L1001.8,148.8 L1009.3,166.3 L999.5,175" fill="none" stroke="#3d3434" stroke-width="1.1" stroke-linejoin="round" stroke-linecap="round"/>
<text x="993.5" y="185.23" font-family="Liberation Sans" font-size="14.6" fill="#e8262d" font-weight="normal" text-anchor="middle" font-style="normal" >O</text>
<text x="965.7" y="204.73" font-family="Liberation Sans" font-size="14.6" fill="#e8262d" font-weight="normal" text-anchor="middle" font-style="normal" >OH</text>
<text x="867" y="283.75" font-family="Liberation Sans" font-size="14.6" fill="#050505" font-weight="bold" text-anchor="middle" font-style="normal" >69</text>
<path d="M903.8,257.4 A39.2,39.2 0 1 0 982.2,257.4 A39.2,39.2 0 1 0 903.8,257.4 Z M909.43,257.4 A33.57,33.57 0 1 1 976.57,257.4 A33.57,33.57 0 1 1 909.43,257.4 Z" fill="#8b9ee1" fill-rule="evenodd"/>
<path d="M913.4,257.4 A29.6,29.6 0 1 0 972.6,257.4 A29.6,29.6 0 1 0 913.4,257.4 Z M918.32,257.4 A24.68,24.68 0 1 1 967.68,257.4 A24.68,24.68 0 1 1 918.32,257.4 Z" fill="#8b9ee1" fill-rule="evenodd"/>
<path d="M922.45,257.4 A20.55,20.55 0 1 0 963.55,257.4 A20.55,20.55 0 1 0 922.45,257.4 Z M927.37,257.4 A15.63,15.63 0 1 1 958.63,257.4 A15.63,15.63 0 1 1 927.37,257.4 Z" fill="#8b9ee1" fill-rule="evenodd"/>
<path d="M930.84,257.4 A12.16,12.16 0 1 0 955.16,257.4 A12.16,12.16 0 1 0 930.84,257.4 Z M935.46,257.4 A7.54,7.54 0 1 1 950.54,257.4 A7.54,7.54 0 1 1 935.46,257.4 Z" fill="#8b9ee1" fill-rule="evenodd"/>
<text x="1004.6" y="283.75" font-family="Liberation Sans" font-size="14.6" fill="#050505" font-weight="bold" text-anchor="middle" font-style="normal" >3</text>
<text x="943.7" y="326.5" font-family="Liberation Sans" font-size="14.6" fill="#050505" font-weight="bold" text-anchor="middle" font-style="normal" >72</text>
<text x="943.6" y="347.6" font-family="Liberation Sans" font-size="14.6" fill="#171415" font-weight="normal" text-anchor="middle" font-style="normal" ><tspan font-style="italic">k</tspan><tspan dy="3.2" font-size="11">cat</tspan><tspan dy="-3.2">/</tspan><tspan font-style="italic">k</tspan><tspan dy="3.2" font-size="11">ref</tspan><tspan dy="-3.2"> = 5</tspan></text>
<text x="943.7" y="366" font-family="Liberation Sans" font-size="14.6" fill="#171415" font-weight="normal" text-anchor="middle" font-style="normal" >(9 wt %, 25 mol %)</text>
<text x="5" y="396.3" font-family="Liberation Sans" font-size="14.6" fill="#050505" font-weight="bold" text-anchor="start" font-style="normal" >B</text>
<text x="235" y="395.8" font-family="Liberation Sans" font-size="14.6" fill="#171415" font-weight="normal" text-anchor="middle" font-style="italic" >negative voltage</text>
<line x1="313" y1="407.5" x2="152" y2="407.5" stroke="#000" stroke-width="1.6" stroke-linecap="butt" />
<path d="M143,407.5 L158,402.5 L155,407.5 L158,412.5 Z" fill="#000"/>
<text x="441.4" y="395.8" font-family="Liberation Sans" font-size="14.6" fill="#171415" font-weight="normal" text-anchor="middle" font-style="italic" >positive voltage</text>
<line x1="365" y1="407.5" x2="525" y2="407.5" stroke="#000" stroke-width="1.6" stroke-linecap="butt" />
<path d="M534.5,407.5 L519.5,412.5 L522.5,407.5 L519.5,402.5 Z" fill="#000"/>
<path d="M12.5,590.5 L88.75,575.25 L213,630 L45,636.8 Z" fill="url(#gpXIX)"/>
<path d="M45,636.8 L213,630 L213,640.5 L45,654.5 Z" fill="#fc060b"/>
<path d="M115,539.75 L72,536.75 C56.74,536.75 46,549.51 46,565.25 C46,578.08 52,588.05 58.73,590.41 L89.45,613.95 L115,581.25 Z" fill="url(#gbXIX)"/>
<circle cx="115" cy="581.25" r="41.45" fill="#fff"/>
<path d="M73.55,581.25 A41.45,41.45 0 1 0 156.45,581.25 A41.45,41.45 0 1 0 73.55,581.25 Z M79.67,581.25 A35.33,35.33 0 1 1 150.33,581.25 A35.33,35.33 0 1 1 79.67,581.25 Z" fill="url(#gStrongRB)" fill-rule="evenodd"/>
<path d="M83.41,581.25 A31.59,31.59 0 1 0 146.59,581.25 A31.59,31.59 0 1 0 83.41,581.25 Z M89.53,581.25 A25.47,25.47 0 1 1 140.47,581.25 A25.47,25.47 0 1 1 89.53,581.25 Z" fill="url(#gStrongRB)" fill-rule="evenodd"/>
<path d="M93.26,581.25 A21.74,21.74 0 1 0 136.74,581.25 A21.74,21.74 0 1 0 93.26,581.25 Z M99.39,581.25 A15.61,15.61 0 1 1 130.61,581.25 A15.61,15.61 0 1 1 99.39,581.25 Z" fill="url(#gStrongRB)" fill-rule="evenodd"/>
<path d="M102.97,581.25 A12.04,12.04 0 1 0 127.03,581.25 A12.04,12.04 0 1 0 102.97,581.25 Z M108.57,581.25 A6.43,6.43 0 1 1 121.43,581.25 A6.43,6.43 0 1 1 108.57,581.25 Z" fill="url(#gStrongRB)" fill-rule="evenodd"/>
<path d="M108.25,454.7 L94.25,454.5 L86.75,470 L94.25,483 L113.75,483 L104.75,497.5" fill="none" stroke="#3a3636" stroke-width="1.1" stroke-linejoin="miter" stroke-linecap="round"/>
<line x1="104.75" y1="497.5" x2="109.75" y2="503.5" stroke="#3a3636" stroke-width="1.1" stroke-linecap="round" />
<line x1="119.75" y1="450.8" x2="124.25" y2="448" stroke="#3a3636" stroke-width="1.1" stroke-linecap="round" />
<line x1="137.25" y1="437.5" x2="155.75" y2="427" stroke="#333" stroke-width="1.1" stroke-linecap="butt" stroke-dasharray="4 2.6" />
<line x1="113.75" y1="461.5" x2="113.75" y2="482.5" stroke="#e8262d" stroke-width="1.1" stroke-linecap="butt" stroke-dasharray="3.2 2.2" />
<line x1="113.95" y1="484" x2="113.95" y2="502.5" stroke="#333" stroke-width="1.1" stroke-linecap="butt" stroke-dasharray="3 2.2" />
<line x1="113.75" y1="515" x2="113.75" y2="542" stroke="#333" stroke-width="1.1" stroke-linecap="butt" stroke-dasharray="3 2.2" />
<line x1="121.25" y1="508" x2="140.75" y2="508" stroke="#333" stroke-width="1.1" stroke-linecap="butt" stroke-dasharray="4 2.6" />
<line x1="104.75" y1="497.5" x2="91.75" y2="498.3" stroke="#3a3636" stroke-width="1.1" stroke-linecap="round" />
<path d="M91.75,498.3 C79.75,499 68.25,504 67.05,517 C65.95,531 71.75,540 80.25,548" fill="none" stroke="#e0121b" stroke-width="2" stroke-linecap="round" stroke-linejoin="round" />
<path d="M76.45,545.6 L83.95,549.4 L73.35,570.7 L66.45,566.9 Z" fill="#d8000c" stroke="none" stroke-width="0" stroke-linejoin="round" stroke-linecap="round"/>
<text x="113.75" y="459.43" font-family="Liberation Sans" font-size="14.6" fill="#e8262d" font-weight="normal" text-anchor="middle" font-style="normal" >O</text>
<text x="130.75" y="448.13" font-family="Liberation Sans" font-size="14.6" fill="#2b3bd0" font-weight="normal" text-anchor="middle" font-style="normal" >H</text>
<text x="113.75" y="512.93" font-family="Liberation Sans" font-size="14.6" fill="#e8262d" font-weight="normal" text-anchor="middle" font-style="normal" >O</text>
<text x="142.25" y="462" font-family="Liberation Serif" font-size="15.5" fill="#2b3bd0" font-weight="normal" text-anchor="start" font-style="normal" >&#948;</text>
<text x="149.55" y="456.5" font-family="Liberation Sans" font-size="11.5" fill="#2b3bd0" font-weight="normal" text-anchor="start" font-style="normal" >+</text>
<text x="94.25" y="525.8" font-family="Liberation Serif" font-size="15.5" fill="#e8262d" font-weight="normal" text-anchor="start" font-style="normal" >&#948;</text>
<text x="101.55" y="520.3" font-family="Liberation Sans" font-size="10.5" fill="#e8262d" font-weight="normal" text-anchor="start" font-style="normal" >&#8722;</text>
<path d="M127.25,453.5 C131.25,463 129.25,472 123.25,477" fill="none" stroke="#e8262d" stroke-width="1" stroke-linecap="round" stroke-linejoin="round" />
<path d="M121.25,480 L123.2,473.28 L124.45,475.9 L127.3,476.48 Z" fill="#e8262d"/>
<path d="M118.25,491.5 C123.75,487.5 129.75,488 134.25,496" fill="none" stroke="#e8262d" stroke-width="1" stroke-linecap="round" stroke-linejoin="round" />
<path d="M135.75,499.5 L130.4,494.98 L133.31,494.91 L134.99,492.54 Z" fill="#e8262d"/>
<line x1="106.95" y1="524.2" x2="111.35" y2="524.2" stroke="#e8262d" stroke-width="1" stroke-linecap="butt" />
<line x1="115.95" y1="524.2" x2="128.95" y2="524.2" stroke="#e8262d" stroke-width="1" stroke-linecap="butt" />
<line x1="106.95" y1="527.6" x2="111.35" y2="527.6" stroke="#e8262d" stroke-width="1" stroke-linecap="butt" />
<line x1="115.95" y1="527.6" x2="128.95" y2="527.6" stroke="#e8262d" stroke-width="1" stroke-linecap="butt" />
<path d="M51.25,458.3 Q60.75,475 76.25,483.2" fill="none" stroke="#666" stroke-width="1" stroke-linecap="butt" stroke-linejoin="round" stroke-dasharray="3.6 2.4" />
<path d="M145.75,486.2 Q165.75,479 174.25,459.7" fill="none" stroke="#666" stroke-width="1" stroke-linecap="butt" stroke-linejoin="round" stroke-dasharray="3.6 2.4" />
<path d="M175.45,457.2 L174.4,465.14 L172.63,462.5 L169.46,462.51 Z" fill="#111"/>
<line x1="157" y1="468.8" x2="157" y2="491.3" stroke="#222" stroke-width="1.1" stroke-linecap="butt" />
<line x1="160.5" y1="468.8" x2="160.5" y2="491.3" stroke="#222" stroke-width="1.1" stroke-linecap="butt" />
<text x="46.9" y="446.25" font-family="Liberation Sans" font-size="14.6" fill="#050505" font-weight="bold" text-anchor="middle" font-style="normal" >68</text>
<text x="183.9" y="446.25" font-family="Liberation Sans" font-size="14.6" fill="#050505" font-weight="bold" text-anchor="middle" font-style="normal" >69</text>
<text x="15.4" y="509.5" font-family="Liberation Sans" font-size="14.6" fill="#050505" font-weight="bold" text-anchor="middle" font-style="normal" >3</text>
<line x1="25" y1="517.5" x2="40" y2="540" stroke="#333" stroke-width="1.1" stroke-linecap="butt" stroke-dasharray="3 2.2" />
<line x1="179.25" y1="538" x2="179.25" y2="584.5" stroke="#000" stroke-width="2" stroke-linecap="butt" />
<path d="M179.25,525.5 L184.45,541 L179.25,537.9 L174.05,541 Z" fill="#000"/>
<line x1="172" y1="580" x2="184" y2="580" stroke="#000" stroke-width="1" stroke-linecap="butt" />
<path d="M179.5,640 L179.5,658.9 L195.5,658.9" fill="none" stroke="#3a3a3a" stroke-width="1" stroke-linejoin="miter" stroke-linecap="butt"/>
<line x1="195.7" y1="654.6" x2="195.7" y2="663.2" stroke="#3a3a3a" stroke-width="1" stroke-linecap="butt" />
<line x1="200.5" y1="652.9" x2="200.5" y2="665.9" stroke="#3a3a3a" stroke-width="1" stroke-linecap="butt" />
<line x1="200.5" y1="658.9" x2="212.5" y2="658.9" stroke="#3a3a3a" stroke-width="1" stroke-linecap="butt" />
<path d="M215,651.9 q2,0.9 0,1.8 q-2,0.9 0,1.8 q2,0.9 0,1.8 q-2,0.9 0,1.8 q2,0.9 0,1.8 q-2,0.9 0,1.8 q2,0.9 0,1.8 q-2,0.9 0,1.8 " fill="none" stroke="#3a3a3a" stroke-width="0.9" stroke-linecap="round" stroke-linejoin="round" />
<text x="126.5" y="680.5" font-family="Liberation Sans" font-size="14.6" fill="#050505" font-weight="bold" text-anchor="middle" font-style="normal" >XIX</text>
<text x="126.3" y="700.6" font-family="Liberation Sans" font-size="14.6" fill="#171415" font-weight="normal" text-anchor="middle" font-style="normal" >V = &#8211;3 V, <tspan font-family="Liberation Serif" font-style="italic" font-size="15">&#951;</tspan> = 0%</text>
<path d="M248.75,590.5 L325,575.25 L451.75,629.5 L280.75,636.3 Z" fill="url(#gpXVII)"/>
<path d="M280.75,636.3 L451.75,629.5 L451.75,640 L280.75,654.5 Z" fill="#8fa3e6"/>
<path d="M350.2,537.2 L305.2,535.8 C289.67,535.8 278.7,548.78 278.7,564.8 C278.7,577.85 284.82,588 291.7,590.41 L323.36,615.16 L350.2,580.8 Z" fill="url(#gbXVII)"/>
<circle cx="350.2" cy="580.8" r="43.6" fill="#fff"/>
<path d="M306.6,580.8 A43.6,43.6 0 1 0 393.8,580.8 A43.6,43.6 0 1 0 306.6,580.8 Z M313.14,580.8 A37.06,37.06 0 1 1 387.26,580.8 A37.06,37.06 0 1 1 313.14,580.8 Z" fill="url(#gLight)" fill-rule="evenodd"/>
<path d="M317.28,580.8 A32.92,32.92 0 1 0 383.12,580.8 A32.92,32.92 0 1 0 317.28,580.8 Z M323.39,580.8 A26.81,26.81 0 1 1 377.01,580.8 A26.81,26.81 0 1 1 323.39,580.8 Z" fill="url(#gLight)" fill-rule="evenodd"/>
<path d="M327.53,580.8 A22.67,22.67 0 1 0 372.87,580.8 A22.67,22.67 0 1 0 327.53,580.8 Z M333.63,580.8 A16.57,16.57 0 1 1 366.77,580.8 A16.57,16.57 0 1 1 333.63,580.8 Z" fill="url(#gLight)" fill-rule="evenodd"/>
<path d="M337.5,580.8 A12.7,12.7 0 1 0 362.9,580.8 A12.7,12.7 0 1 0 337.5,580.8 Z M343.06,580.8 A7.14,7.14 0 1 1 357.34,580.8 A7.14,7.14 0 1 1 343.06,580.8 Z" fill="url(#gLight)" fill-rule="evenodd"/>
<path d="M342.75,453.45 L328.75,453.25 L321.25,468.75 L328.75,481.75 L348.25,481.75 L339.25,496.25" fill="none" stroke="#3a3636" stroke-width="1.1" stroke-linejoin="miter" stroke-linecap="round"/>
<line x1="339.25" y1="496.25" x2="344.25" y2="502.25" stroke="#3a3636" stroke-width="1.1" stroke-linecap="round" />
<line x1="354.25" y1="449.55" x2="358.75" y2="446.75" stroke="#3a3636" stroke-width="1.1" stroke-linecap="round" />
<line x1="371.75" y1="436.25" x2="390.25" y2="425.75" stroke="#333" stroke-width="1.1" stroke-linecap="butt" stroke-dasharray="4 2.6" />
<line x1="348.25" y1="460.25" x2="348.25" y2="481.25" stroke="#e8262d" stroke-width="1.1" stroke-linecap="butt" stroke-dasharray="3.2 2.2" />
<line x1="348.45" y1="482.75" x2="348.45" y2="501.25" stroke="#333" stroke-width="1.1" stroke-linecap="butt" stroke-dasharray="3 2.2" />
<line x1="348.25" y1="513.75" x2="348.25" y2="540" stroke="#333" stroke-width="1.1" stroke-linecap="butt" stroke-dasharray="3 2.2" />
<line x1="355.75" y1="506.75" x2="375.25" y2="506.75" stroke="#333" stroke-width="1.1" stroke-linecap="butt" stroke-dasharray="4 2.6" />
<line x1="339.25" y1="496.25" x2="326.25" y2="497.05" stroke="#3a3636" stroke-width="1.1" stroke-linecap="round" />
<path d="M326.25,497.05 C314.25,497.75 302.75,502.75 301.55,515.75 C300.45,529.75 306.25,538.75 314.75,546.75" fill="none" stroke="#e0121b" stroke-width="2" stroke-linecap="round" stroke-linejoin="round" />
<path d="M310.95,544.35 L318.45,548.15 L307.85,569.45 L300.95,565.65 Z" fill="#d8000c" stroke="none" stroke-width="0" stroke-linejoin="round" stroke-linecap="round"/>
<text x="348.25" y="458.18" font-family="Liberation Sans" font-size="14.6" fill="#e8262d" font-weight="normal" text-anchor="middle" font-style="normal" >O</text>
<text x="365.25" y="446.88" font-family="Liberation Sans" font-size="14.6" fill="#2b3bd0" font-weight="normal" text-anchor="middle" font-style="normal" >H</text>
<text x="348.25" y="511.68" font-family="Liberation Sans" font-size="14.6" fill="#e8262d" font-weight="normal" text-anchor="middle" font-style="normal" >O</text>
<text x="376.75" y="460.75" font-family="Liberation Serif" font-size="15.5" fill="#2b3bd0" font-weight="normal" text-anchor="start" font-style="normal" >&#948;</text>
<text x="384.05" y="455.25" font-family="Liberation Sans" font-size="11.5" fill="#2b3bd0" font-weight="normal" text-anchor="start" font-style="normal" >+</text>
<text x="328.75" y="524.55" font-family="Liberation Serif" font-size="15.5" fill="#e8262d" font-weight="normal" text-anchor="start" font-style="normal" >&#948;</text>
<text x="336.05" y="519.05" font-family="Liberation Sans" font-size="10.5" fill="#e8262d" font-weight="normal" text-anchor="start" font-style="normal" >&#8722;</text>
<path d="M361.75,452.25 C365.75,461.75 363.75,470.75 357.75,475.75" fill="none" stroke="#e8262d" stroke-width="1" stroke-linecap="round" stroke-linejoin="round" />
<path d="M355.75,478.75 L357.7,472.03 L358.95,474.65 L361.8,475.23 Z" fill="#e8262d"/>
<path d="M352.75,490.25 C358.25,486.25 364.25,486.75 368.75,494.75" fill="none" stroke="#e8262d" stroke-width="1" stroke-linecap="round" stroke-linejoin="round" />
<path d="M370.25,498.25 L364.9,493.73 L367.81,493.66 L369.49,491.29 Z" fill="#e8262d"/>
<path d="M285.75,457.05 Q295.25,473.75 310.75,481.95" fill="none" stroke="#555" stroke-width="1" stroke-linecap="butt" stroke-linejoin="round" />
<path d="M380.25,484.95 Q400.25,477.75 408.75,458.45" fill="none" stroke="#555" stroke-width="1" stroke-linecap="butt" stroke-linejoin="round" />
<path d="M409.95,455.95 L408.9,463.89 L407.13,461.25 L403.96,461.26 Z" fill="#111"/>
<text x="281.25" y="446.25" font-family="Liberation Sans" font-size="14.6" fill="#050505" font-weight="bold" text-anchor="middle" font-style="normal" >68</text>
<text x="418.4" y="446.25" font-family="Liberation Sans" font-size="14.6" fill="#050505" font-weight="bold" text-anchor="middle" font-style="normal" >69</text>
<line x1="403.25" y1="545.5" x2="403.25" y2="561" stroke="#111" stroke-width="0.8" stroke-linecap="butt" />
<path d="M403.3,565.2 L401,558.4 L403.3,559.76 L405.6,558.4 Z" fill="#111"/>
<line x1="401.2" y1="546.8" x2="405.4" y2="546.8" stroke="#111" stroke-width="0.7" stroke-linecap="butt" />
<text x="361.9" y="680.5" font-family="Liberation Sans" font-size="14.6" fill="#050505" font-weight="bold" text-anchor="middle" font-style="normal" >XVII</text>
<text x="362" y="701.5" font-family="Liberation Sans" font-size="14.6" fill="#171415" font-weight="normal" text-anchor="middle" font-style="normal" >V = 0 V, <tspan font-family="Liberation Serif" font-style="italic" font-size="15">&#951;</tspan> = 4%</text>
<path d="M476.25,592.5 L552,577.5 L676.75,632.5 L508.75,639.5 Z" fill="url(#gpXVIII)"/>
<path d="M508.75,639.5 L676.75,632.5 L676.75,643 L508.75,657 Z" fill="#1333e8"/>
<path d="M576.6,538.05 L531.6,536.25 C516.07,536.25 505.1,549.23 505.1,565.25 C505.1,578.3 511.23,588.45 518.1,590.86 L550,615.29 L576.6,581.25 Z" fill="url(#gbXVIII)"/>
<circle cx="576.6" cy="581.25" r="43.15" fill="#fff"/>
<path d="M533.45,581.25 A43.15,43.15 0 1 0 619.75,581.25 A43.15,43.15 0 1 0 533.45,581.25 Z M539.83,581.25 A36.77,36.77 0 1 1 613.37,581.25 A36.77,36.77 0 1 1 539.83,581.25 Z" fill="url(#gStrongBR)" fill-rule="evenodd"/>
<path d="M543.71,581.25 A32.89,32.89 0 1 0 609.49,581.25 A32.89,32.89 0 1 0 543.71,581.25 Z M550.09,581.25 A26.51,26.51 0 1 1 603.11,581.25 A26.51,26.51 0 1 1 550.09,581.25 Z" fill="url(#gStrongBR)" fill-rule="evenodd"/>
<path d="M553.97,581.25 A22.63,22.63 0 1 0 599.23,581.25 A22.63,22.63 0 1 0 553.97,581.25 Z M560.35,581.25 A16.25,16.25 0 1 1 592.85,581.25 A16.25,16.25 0 1 1 560.35,581.25 Z" fill="url(#gStrongBR)" fill-rule="evenodd"/>
<path d="M564.07,581.25 A12.53,12.53 0 1 0 589.13,581.25 A12.53,12.53 0 1 0 564.07,581.25 Z M569.9,581.25 A6.7,6.7 0 1 1 583.3,581.25 A6.7,6.7 0 1 1 569.9,581.25 Z" fill="url(#gStrongBR)" fill-rule="evenodd"/>
<path d="M567,458.45 L553,458.25 L545.5,473.75 L553,486.75 L572.5,486.75 L563.5,501.25" fill="none" stroke="#3a3636" stroke-width="1.1" stroke-linejoin="miter" stroke-linecap="round"/>
<line x1="563.5" y1="501.25" x2="568.5" y2="507.25" stroke="#3a3636" stroke-width="1.1" stroke-linecap="round" />
<line x1="578.5" y1="454.55" x2="583" y2="451.75" stroke="#3a3636" stroke-width="1.1" stroke-linecap="round" />
<line x1="596" y1="441.25" x2="614.5" y2="430.75" stroke="#333" stroke-width="1.1" stroke-linecap="butt" stroke-dasharray="4 2.6" />
<line x1="572.5" y1="465.25" x2="572.5" y2="486.25" stroke="#e8262d" stroke-width="1.1" stroke-linecap="butt" stroke-dasharray="3.2 2.2" />
<line x1="572.7" y1="487.75" x2="572.7" y2="506.25" stroke="#333" stroke-width="1.1" stroke-linecap="butt" stroke-dasharray="3 2.2" />
<line x1="572.5" y1="518.75" x2="572.5" y2="541" stroke="#333" stroke-width="1.1" stroke-linecap="butt" stroke-dasharray="3 2.2" />
<line x1="580" y1="511.75" x2="599.5" y2="511.75" stroke="#333" stroke-width="1.1" stroke-linecap="butt" stroke-dasharray="4 2.6" />
<line x1="563.5" y1="501.25" x2="550.5" y2="502.05" stroke="#3a3636" stroke-width="1.1" stroke-linecap="round" />
<path d="M550.5,502.05 C538.5,502.75 527,507.75 525.8,520.75 C524.7,534.75 530.5,543.75 539,551.75" fill="none" stroke="#e0121b" stroke-width="2" stroke-linecap="round" stroke-linejoin="round" />
<path d="M535.2,549.35 L542.7,553.15 L532.1,574.45 L525.2,570.65 Z" fill="#d8000c" stroke="none" stroke-width="0" stroke-linejoin="round" stroke-linecap="round"/>
<text x="572.5" y="463.18" font-family="Liberation Sans" font-size="14.6" fill="#e8262d" font-weight="normal" text-anchor="middle" font-style="normal" >O</text>
<text x="589.5" y="451.88" font-family="Liberation Sans" font-size="14.6" fill="#2b3bd0" font-weight="normal" text-anchor="middle" font-style="normal" >H</text>
<text x="572.5" y="516.68" font-family="Liberation Sans" font-size="14.6" fill="#e8262d" font-weight="normal" text-anchor="middle" font-style="normal" >O</text>
<text x="601" y="465.75" font-family="Liberation Serif" font-size="15.5" fill="#2b3bd0" font-weight="normal" text-anchor="start" font-style="normal" >&#948;</text>
<text x="608.3" y="460.25" font-family="Liberation Sans" font-size="11.5" fill="#2b3bd0" font-weight="normal" text-anchor="start" font-style="normal" >+</text>
<text x="553" y="529.55" font-family="Liberation Serif" font-size="15.5" fill="#e8262d" font-weight="normal" text-anchor="start" font-style="normal" >&#948;</text>
<text x="560.3" y="524.05" font-family="Liberation Sans" font-size="10.5" fill="#e8262d" font-weight="normal" text-anchor="start" font-style="normal" >&#8722;</text>
<path d="M586,457.25 C590,466.75 588,475.75 582,480.75" fill="none" stroke="#e8262d" stroke-width="1" stroke-linecap="round" stroke-linejoin="round" />
<path d="M580,483.75 L581.95,477.03 L583.2,479.65 L586.05,480.23 Z" fill="#e8262d"/>
<path d="M577,495.25 C582.5,491.25 588.5,491.75 593,499.75" fill="none" stroke="#e8262d" stroke-width="1" stroke-linecap="round" stroke-linejoin="round" />
<path d="M594.5,503.25 L589.15,498.73 L592.06,498.66 L593.74,496.29 Z" fill="#e8262d"/>
<path d="M510,462.05 Q519.5,478.75 535,486.95" fill="none" stroke="#000" stroke-width="2.6" stroke-linecap="butt" stroke-linejoin="round" />
<path d="M604.5,489.95 Q624.5,482.75 634.05,459.5" fill="none" stroke="#000" stroke-width="2.6" stroke-linecap="butt" stroke-linejoin="round" />
<path d="M636.25,455 L634.97,468.48 L631.56,463.83 L625.79,463.6 Z" fill="#000"/>
<text x="505.6" y="447.5" font-family="Liberation Sans" font-size="14.6" fill="#050505" font-weight="bold" text-anchor="middle" font-style="normal" >68</text>
<text x="642.3" y="447.5" font-family="Liberation Sans" font-size="14.6" fill="#050505" font-weight="bold" text-anchor="middle" font-style="normal" >69</text>
<line x1="642.5" y1="537" x2="642.5" y2="585" stroke="#000" stroke-width="2" stroke-linecap="butt" />
<path d="M642.5,597.2 L637.3,581.2 L642.5,584.4 L647.7,581.2 Z" fill="#000"/>
<line x1="636.3" y1="542" x2="647.6" y2="542" stroke="#000" stroke-width="1" stroke-linecap="butt" />
<path d="M643,645 L643,663.9 L659,663.9" fill="none" stroke="#3a3a3a" stroke-width="1" stroke-linejoin="miter" stroke-linecap="butt"/>
<line x1="659.2" y1="656.4" x2="659.2" y2="671.4" stroke="#3a3a3a" stroke-width="1" stroke-linecap="butt" />
<line x1="663.8" y1="660.1" x2="663.8" y2="667.7" stroke="#3a3a3a" stroke-width="1" stroke-linecap="butt" />
<line x1="664" y1="663.9" x2="676" y2="663.9" stroke="#3a3a3a" stroke-width="1" stroke-linecap="butt" />
<path d="M678.5,656.9 q2,0.9 0,1.8 q-2,0.9 0,1.8 q2,0.9 0,1.8 q-2,0.9 0,1.8 q2,0.9 0,1.8 q-2,0.9 0,1.8 q2,0.9 0,1.8 q-2,0.9 0,1.8 " fill="none" stroke="#3a3a3a" stroke-width="0.9" stroke-linecap="round" stroke-linejoin="round" />
<text x="589.4" y="682" font-family="Liberation Sans" font-size="14.6" fill="#050505" font-weight="bold" text-anchor="middle" font-style="normal" >XVIII</text>
<text x="589.5" y="702.3" font-family="Liberation Sans" font-size="14.6" fill="#171415" font-weight="normal" text-anchor="middle" font-style="normal" >V = +6 V, <tspan font-family="Liberation Serif" font-style="italic" font-size="15">&#951;</tspan> = 31%</text>
<text x="706" y="429.7" font-family="Liberation Sans" font-size="14.6" fill="#050505" font-weight="bold" text-anchor="start" font-style="normal" >C</text>
<text x="844.3" y="423" font-family="Liberation Sans" font-size="14.75" fill="#171415" font-weight="normal" text-anchor="start" font-style="normal" >a) fluorinated ethylene</text>
<text x="844.3" y="442" font-family="Liberation Sans" font-size="14.75" fill="#171415" font-weight="normal" text-anchor="start" font-style="normal" >propylene foil with flow</text>
<text x="844.3" y="461" font-family="Liberation Sans" font-size="14.75" fill="#171415" font-weight="normal" text-anchor="start" font-style="normal" >channel, 5 x 5 cm,</text>
<text x="844.3" y="480" font-family="Liberation Sans" font-size="14.75" fill="#171415" font-weight="normal" text-anchor="start" font-style="normal" >250 &#181;m thick</text>
<text x="742" y="472" font-family="Liberation Sans" font-size="14.6" fill="#171415" font-weight="normal" text-anchor="start" font-style="normal" >galvanostat</text>
<path d="M762.5,495 L732.5,495 L732.5,656.8 L749,656.8" fill="none" stroke="#3c3c3c" stroke-width="1" stroke-linejoin="miter" stroke-linecap="butt"/>
<path d="M765,656.8 L812,656.8 L812,645.5" fill="none" stroke="#3c3c3c" stroke-width="1" stroke-linejoin="miter" stroke-linecap="butt"/>
<path d="M786.5,495 L812,495 L812,519.5" fill="none" stroke="#3c3c3c" stroke-width="1" stroke-linejoin="miter" stroke-linecap="butt"/>
<circle cx="774.5" cy="496.2" r="12" fill="#fff" stroke="#3c3c3c" stroke-width="1"/>
<line x1="769.3" y1="502.8" x2="778" y2="491.3" stroke="#222" stroke-width="1" stroke-linecap="round" />
<path d="M780.3,488.3 L777.94,495.31 L776.89,492.74 L774.13,492.39 Z" fill="#111"/>
<rect x="749.5" y="519.4" width="182.5" height="19.4" fill="#e5e5e5"/>
<rect x="749.5" y="546.5" width="182.5" height="19.1" fill="#ffbfbf"/>
<rect x="749.5" y="577.6" width="182.5" height="9" fill="#8080fa"/>
<rect x="749.5" y="586.6" width="182.5" height="10.4" fill="#ff8080"/>
<rect x="749.5" y="601" width="182.5" height="19.4" fill="#c6d2fb"/>
<rect x="749.5" y="626.8" width="182.5" height="18.8" fill="#e5e5e5"/>
<text x="833.8" y="534.5" font-family="Liberation Sans" font-size="14.6" fill="#171415" font-weight="normal" text-anchor="middle" font-style="normal" >metal plate</text>
<text x="833.9" y="560.7" font-family="Liberation Sans" font-size="14.6" fill="#171415" font-weight="normal" text-anchor="middle" font-style="normal" >Pt (cathode)</text>
<text x="833.8" y="593.7" font-family="Liberation Sans" font-size="14.6" fill="#ffffff" font-weight="normal" text-anchor="middle" font-style="normal" >MWCNTs</text>
<text x="834" y="616.2" font-family="Liberation Sans" font-size="14.6" fill="#171415" font-weight="normal" text-anchor="middle" font-style="normal" >graphite (anode)</text>
<text x="833.8" y="640" font-family="Liberation Sans" font-size="14.6" fill="#171415" font-weight="normal" text-anchor="middle" font-style="normal" >metal plate</text>
<line x1="750" y1="573" x2="931" y2="573" stroke="#000" stroke-width="4.2" stroke-linecap="butt" stroke-dasharray="15 8.6" />
<circle cx="757.3" cy="572.5" r="3.4" fill="#fff" stroke="#000" stroke-width="1"/>
<circle cx="922.3" cy="572.5" r="3.4" fill="#fff" stroke="#000" stroke-width="1"/>
<line x1="757" y1="663" x2="757" y2="585" stroke="#000" stroke-width="2" stroke-linecap="butt" />
<line x1="922.5" y1="572.5" x2="922.5" y2="650" stroke="#000" stroke-width="2" stroke-linecap="butt" />
<path d="M922.5,663.3 L917.7,647.8 L922.5,650.9 L927.3,647.8 Z" fill="#000"/>
<path d="M757,573.5 L761.6,587 L757,584.3 L752.4,587 Z" fill="#000"/>
<text x="729.5" y="681.2" font-family="Liberation Sans" font-size="14.6" fill="#171415" font-weight="normal" text-anchor="start" font-style="normal" >syringe pump</text>
<text x="728.8" y="705" font-family="Liberation Sans" font-size="14.6" fill="#171415" font-weight="normal" text-anchor="start" font-style="normal" >substrate</text>
<text x="897.5" y="681.5" font-family="Liberation Sans" font-size="14.6" fill="#171415" font-weight="normal" text-anchor="start" font-style="normal" >product</text>
<text x="961.3" y="531.3" font-family="Liberation Sans" font-size="14.6" fill="#171415" font-weight="normal" text-anchor="start" font-style="normal" >a)</text>
<line x1="938.3" y1="567.5" x2="956.6" y2="539.4" stroke="#222" stroke-width="1.3" stroke-linecap="butt" stroke-dasharray="2.6 2.4" />
<line x1="673.8" y1="522.5" x2="738.8" y2="571.8" stroke="#222" stroke-width="1.2" stroke-linecap="butt" stroke-dasharray="2.4 2.2" />
<line x1="742.5" y1="623" x2="700" y2="649.3" stroke="#222" stroke-width="1.2" stroke-linecap="butt" stroke-dasharray="2.4 2.2" />
</g>
</svg>
</body></html>
